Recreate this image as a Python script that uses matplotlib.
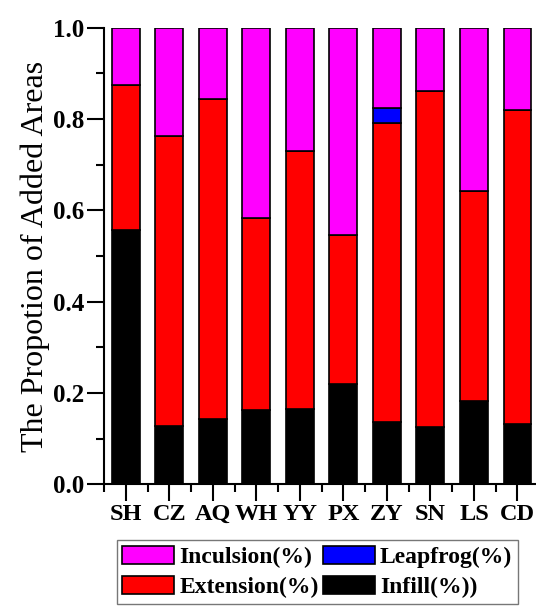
import matplotlib.pyplot as plt
import numpy as np
from matplotlib.ticker import MultipleLocator

# DATA
cities = ["SH", "CZ", "AQ", "WH", "YY", "PX", "ZY", "SN", "LS", "CD"]
infill = [0.558, 0.128, 0.142, 0.163, 0.165, 0.219, 0.136, 0.125, 0.182, 0.133]
extension = [0.316, 0.635, 0.702, 0.420, 0.564, 0.328, 0.655, 0.737, 0.461, 0.686]
leapfrog = [0.0, 0.0, 0.0, 0.0, 0.0, 0.0, 0.034, 0.0, 0.0, 0.0]
inclusion = [1 - a - b - c for a, b, c in zip(infill, extension, leapfrog)]
yticks = [0.0, 0.2, 0.4, 0.6, 0.8, 1.0]

plt.rcParams['font.family'] = ['Liberation Serif', 'DejaVu Serif']

fig = plt.figure(figsize=(5.36, 6.12), dpi=100)
ax = fig.add_axes([0.194, 0.2087, 0.812, 0.746])

x = np.arange(1, len(cities) + 1)
w = 0.64
kw = dict(width=w, edgecolor='black', linewidth=1.2)
b1 = ax.bar(x, infill, color='black', label='Infill(%))', **kw)
bottom = np.array(infill)
b2 = ax.bar(x, extension, bottom=bottom, color='#ff0000', label='Extension(%)', **kw)
bottom = bottom + np.array(extension)
b3 = ax.bar(x, leapfrog, bottom=bottom, color='#0000ff', label='Leapfrog(%)', **kw)
bottom = bottom + np.array(leapfrog)
b4 = ax.bar(x, inclusion, bottom=bottom, color='#ff00ff', label='Inculsion(%)', **kw)

ax.set_xlim(0.5, 10.5)
ax.set_ylim(0, 1.0)
ax.set_xticks(x)
ax.set_xticklabels(cities, fontsize=17.5, fontweight='bold')
ax.xaxis.set_minor_locator(MultipleLocator(1, offset=0.5))
ax.set_yticks(yticks)
ax.set_yticklabels(["%.1f" % v for v in yticks], fontsize=18, fontweight='bold')
ax.yaxis.set_minor_locator(MultipleLocator(0.1))
ax.tick_params(which='major', length=12, width=1.5, direction='out', pad=2)
ax.tick_params(which='minor', length=6, width=1.5, direction='out')
ax.spines['top'].set_visible(False)
ax.spines['right'].set_visible(False)
ax.spines['left'].set_linewidth(1.5)
ax.spines['bottom'].set_linewidth(1.5)
ax.set_ylabel("The Propotion of Added Areas", fontsize=23, labelpad=2)

# Legend
fig.legend([b4, b2, b3, b1], ['Inculsion(%)', 'Extension(%)', 'Leapfrog(%)', 'Infill(%))'],
           ncol=2, loc='upper center', bbox_to_anchor=(0.592, 0.1176),
           prop={'size': 17, 'weight': 'bold'}, frameon=True, fancybox=False,
           edgecolor='#555555', handlelength=2.2, handleheight=0.78,
           columnspacing=0.2, handletextpad=0.2, borderpad=0.25, labelspacing=0.35,
           borderaxespad=0)

plt.savefig("out.png", dpi=100)
